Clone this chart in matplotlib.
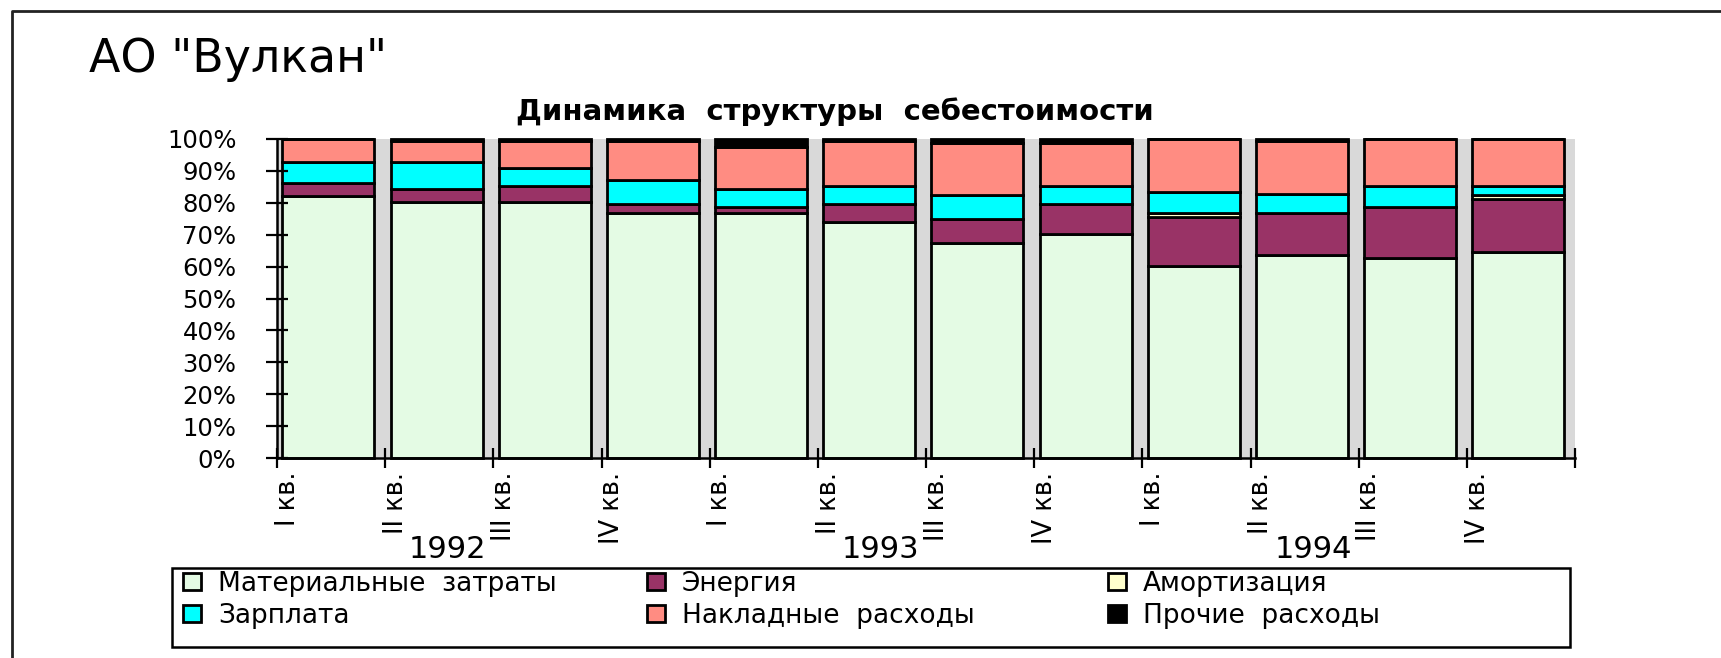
import numpy as np
import matplotlib.pyplot as plt
import matplotlib.transforms as mtransforms
from matplotlib.patches import Rectangle
from matplotlib.lines import Line2D

# quarters 1992-1994, shares of cost (%)
quarters = ['I кв.', 'II кв.', 'III кв.', 'IV кв.'] * 3
years = ['1992', '1993', '1994']

material = [82.2, 80.4, 80.4, 76.7, 76.7, 73.9, 67.5, 70.2, 60.2, 63.6, 62.8, 64.7]
energy = [4.1, 3.9, 4.9, 2.9, 1.9, 5.7, 7.3, 9.4, 15.5, 13.3, 15.8, 16.6]
amort = [0, 0, 0, 0, 0, 0, 0, 0, 1.0, 0, 0, 1.1]
salary = [6.4, 8.4, 5.5, 7.6, 5.7, 5.7, 7.7, 5.7, 6.8, 5.8, 6.8, 3.0]
overhead = [7.3, 6.6, 8.6, 12.3, 13.2, 14.2, 16.2, 13.5, 16.5, 16.6, 14.6, 14.6]
other = [0, 0.7, 0.6, 0.5, 2.5, 0.5, 1.3, 1.2, 0, 0.7, 0, 0]

names = ['Материальные  затраты', 'Энергия', 'Амортизация',
         'Зарплата', 'Накладные  расходы', 'Прочие  расходы']
colors = ['#e4fbe4', '#993366', '#ffffcc', '#00ffff', '#ff8c82', '#000000']

W, H = 1721, 658
fig = plt.figure(figsize=(W / 100, H / 100), dpi=100)
ax = fig.add_axes([277 / W, 1 - 458 / H, (1575 - 277) / W, (458 - 139) / H])
ax.set_facecolor('#d9d9d9')

x = np.arange(len(quarters))
bottom = np.zeros(len(x))
handles = []
for vals, name, col in zip([material, energy, amort, salary, overhead, other], names, colors):
    b = ax.bar(x + 0.05, vals, width=0.85, bottom=bottom, align='edge', color=col,
               edgecolor='black', linewidth=2, label=name, clip_on=False)
    handles.append(b)
    bottom += np.array(vals)

ax.set_xlim(0, 12)
ax.set_ylim(0, 100)
ax.set_yticks(np.arange(0, 101, 10))
ax.set_yticklabels(['%d%%' % v for v in range(0, 101, 10)])
ax.tick_params(axis='y', direction='inout', length=16.5, width=1.6, pad=21, labelsize=17.5)
ax.set_xticks(np.arange(13))
ax.set_xticklabels([])
ax.set_xticks(x + 0.1, minor=True)
ax.set_xticklabels(quarters, minor=True, rotation=90, va='top', ha='center', fontsize=18.5)
ax.tick_params(axis='x', which='major', direction='inout', length=14.4, width=1.6)
ax.tick_params(axis='x', which='minor', length=0, pad=10)
for s in ['top', 'right']:
    ax.spines[s].set_visible(False)
for s in ['left', 'bottom']:
    ax.spines[s].set_linewidth(1.8)

# year labels under the quarter labels
trans = mtransforms.blended_transform_factory(ax.transData, fig.transFigure)
for k, yr in enumerate(years):
    ax.text(4 * k + 1.58, 1 - 558 / H, yr, transform=trans, ha='center', va='baseline', fontsize=22)

fig.text(89 / W, 1 - 72 / H, 'АО "Вулкан"', fontsize=33, va='baseline')
fig.text(835 / W, 1 - 120 / H, 'Динамика  структуры  себестоимости', fontsize=21,
         fontweight='bold', ha='center', va='baseline')

# outer frame (top and left edges)
fig.add_artist(Line2D([12 / W, 12 / W, 1.0], [0, 1 - 11 / H, 1 - 11 / H], color='#222222',
                      lw=2, transform=fig.transFigure))

# legend box with three columns
fig.add_artist(Rectangle((172 / W, 1 - 647 / H), (1570 - 172) / W, (647 - 568) / H,
                         transform=fig.transFigure, facecolor='white', edgecolor='black', lw=1.8))
col_x = [183, 647, 1108]
for c in range(3):
    fig.legend([handles[c], handles[c + 3]], [names[c], names[c + 3]], loc='upper left',
               bbox_to_anchor=(col_x[c] / W, 1 - 571 / H), frameon=False, fontsize=19,
               borderpad=0, borderaxespad=0, handlelength=0.68, handleheight=0.6,
               handletextpad=0.65, labelspacing=0.22)

fig.savefig('out.png', dpi=100)
